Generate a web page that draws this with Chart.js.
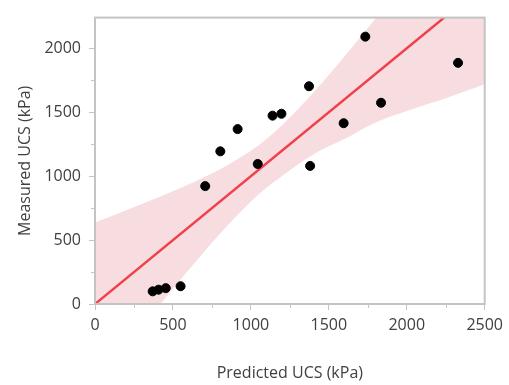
<!DOCTYPE html>
<html>
<head>
<meta charset="utf-8">
<script src="https://cdn.jsdelivr.net/npm/chart.js@4/dist/chart.umd.min.js"></script>
<style>
  html, body { margin: 0; padding: 0; background: #fff; }
  #wrap { width: 509px; height: 385px; }
</style>
</head>
<body>
<div id="wrap"><canvas id="ucsChart" width="509" height="385"></canvas></div>
<script>
// Predicted vs measured UCS (kPa)
var predicted = [370, 408, 454, 549, 707, 804, 915, 1044, 1139, 1196, 1373, 1380, 1595, 1734, 1835, 2329];
var measured = [99, 112, 124, 139, 922, 1194, 1368, 1095, 1473, 1488, 1703, 1080, 1414, 2091, 1574, 1886];

// confidence band edges, sampled along the x axis
var bandX = [0, 200, 400, 600, 800, 1000, 1100, 1200, 1400, 1600, 1800, 2000, 2250, 2500];
var bandUpper = [637, 733, 831, 935, 1052, 1198, 1290, 1398, 1652, 1935, 2232, 2533, 2914, 3297];
var bandLower = [-637, -333, -31, 265, 548, 802, 910, 1002, 1170, 1290, 1420, 1510, 1610, 1719];

// fit line end points
var fitX = [0, 2500];
var fitY = [0, 2500];

var xTicks = [0, 500, 1000, 1500, 2000, 2500];
var yTicks = [0, 500, 1000, 1500, 2000];

(function () {
  'use strict';

  function pairs(xs, ys) {
    return xs.map(function (x, i) { return { x: x, y: ys[i] }; });
  }

  var axisGray = '#c4c4c4';
  var textGray = '#404040';
  var font = { family: '"Open Sans", "Noto Sans", sans-serif', size: 16 };

  // frame round the plot and the short minor ticks
  var framePlugin = {
    id: 'frame',
    afterDraw: function (chart) {
      var c = chart.ctx, a = chart.chartArea;
      var xs = chart.scales.x, ys = chart.scales.y;
      c.save();
      c.strokeStyle = axisGray;
      c.lineWidth = 2;
      c.strokeRect(a.left, a.top, a.right - a.left, a.bottom - a.top);
      c.lineWidth = 1;
      c.beginPath();
      for (var v = 250; v < 2500; v += 500) {
        var px = Math.round(xs.getPixelForValue(v)) + 0.5;
        c.moveTo(px, a.bottom);
        c.lineTo(px, a.bottom + 4);
      }
      for (var w = 250; w < 2240; w += 500) {
        var py = Math.round(ys.getPixelForValue(w)) + 0.5;
        c.moveTo(a.left, py);
        c.lineTo(a.left - 4, py);
      }
      c.stroke();
      c.restore();
    }
  };

  function plain(v) { return String(v); }

  new Chart(document.getElementById('ucsChart'), {
    type: 'scatter',
    data: {
      datasets: [
        {
          type: 'line',
          order: 3,
          data: pairs(bandX, bandUpper),
          borderWidth: 0,
          pointRadius: 0,
          backgroundColor: '#f7dce0',
          fill: '+1',
          cubicInterpolationMode: 'monotone'
        },
        {
          type: 'line',
          order: 3,
          data: pairs(bandX, bandLower),
          borderWidth: 0,
          pointRadius: 0,
          fill: false,
          cubicInterpolationMode: 'monotone'
        },
        {
          type: 'line',
          order: 1,
          data: pairs(fitX, fitY),
          borderColor: '#f0404a',
          borderWidth: 2.5,
          pointRadius: 0,
          fill: false
        },
        {
          order: 0,
          data: pairs(predicted, measured),
          backgroundColor: '#000',
          borderColor: '#000',
          pointRadius: 4.5,
          pointHoverRadius: 4.5
        }
      ]
    },
    options: {
      responsive: false,
      animation: false,
      events: [],
      layout: { padding: { top: 9, right: 19, left: 10, bottom: 0 } },
      plugins: {
        legend: { display: false },
        tooltip: { enabled: false }
      },
      scales: {
        x: {
          type: 'linear',
          min: 0,
          max: 2500,
          afterBuildTicks: function (s) { s.ticks = xTicks.map(function (v) { return { value: v }; }); },
          afterFit: function (s) { s.height = 81; },
          border: { display: false },
          grid: { drawOnChartArea: false, tickLength: 6, tickColor: axisGray },
          ticks: { color: textGray, font: font, padding: 6, maxRotation: 0, callback: plain },
          title: { display: true, text: 'Predicted UCS (kPa)', color: textGray, font: font, padding: { top: 0, bottom: 2 } }
        },
        y: {
          type: 'linear',
          min: 0,
          max: 2240,
          afterBuildTicks: function (s) { s.ticks = yTicks.map(function (v) { return { value: v }; }); },
          afterFit: function (s) { s.width = 85; },
          border: { display: false },
          grid: { drawOnChartArea: false, tickLength: 6, tickColor: axisGray },
          ticks: { color: textGray, font: font, padding: 8, callback: plain },
          title: { display: true, text: 'Measured UCS (kPa)', color: textGray, font: font, padding: { top: 6, bottom: 0 } }
        }
      }
    },
    plugins: [framePlugin]
  });
})();
</script>
</body>
</html>
